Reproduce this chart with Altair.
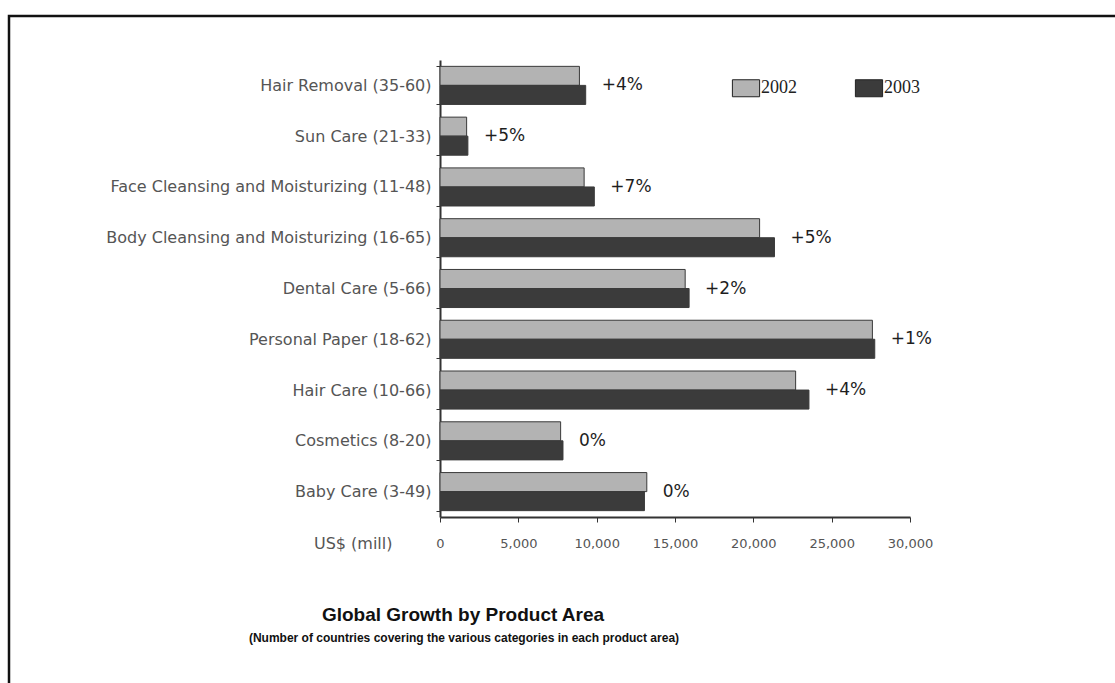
import altair as alt
import pandas as pd

categories = [
    "Hair Removal (35-60)",
    "Sun Care (21-33)",
    "Face Cleansing and Moisturizing (11-48)",
    "Body Cleansing and Moisturizing (16-65)",
    "Dental Care (5-66)",
    "Personal Paper (18-62)",
    "Hair Care (10-66)",
    "Cosmetics (8-20)",
    "Baby Care (3-49)",
]
values_2002 = [8900, 1700, 9200, 20400, 15650, 27600, 22700, 7700, 13200]
values_2003 = [9300, 1780, 9850, 21350, 15900, 27750, 23550, 7850, 13050]
growth_labels = ["+4%", "+5%", "+7%", "+5%", "+2%", "+1%", "+4%", "0%", "0%"]
years = ["2002", "2003"]
x_ticks = [0, 5000, 10000, 15000, 20000, 25000, 30000]
title_text = "Global Growth by Product Area"
subtitle_text = "(Number of countries covering the various categories in each product area)"

rows = []
for c, a, b in zip(categories, values_2002, values_2003):
    rows.append({"category": c, "year": "2002", "value": a})
    rows.append({"category": c, "year": "2003", "value": b})
bars_df = pd.DataFrame(rows)

labels_df = pd.DataFrame({
    "category": categories,
    "top": [max(a, b) for a, b in zip(values_2002, values_2003)],
    "label": growth_labels,
})

y_scale = alt.Scale(domain=categories, paddingInner=0.25, paddingOuter=0.125)
x_scale = alt.Scale(domain=[0, 30000], nice=False)

y_axis = alt.Axis(
    title=None,
    labelFont="DejaVu Sans",
    labelFontSize=16,
    labelColor="#555555",
    labelPadding=5,
    tickSize=4,
    tickBand="extent",
    tickColor="#333333",
    domainColor="#333333",
    domainWidth=2,
    labelLimit=500,
)
x_axis = alt.Axis(
    title="US$ (mill)",
    titleFont="DejaVu Sans",
    titleFontSize=16,
    titleFontWeight="normal",
    titleColor="#555555",
    titleX=-48,
    titleY=26,
    titleAlign="right",
    titleBaseline="middle",
    values=x_ticks,
    labelExpr="format(datum.value, ',')",
    labelFlush=False,
    labelFont="DejaVu Sans",
    labelFontSize=13,
    labelColor="#555555",
    labelPadding=15,
    tickSize=5,
    tickColor="#333333",
    domainColor="#333333",
    domainWidth=2,
    grid=False,
)

bars = alt.Chart(bars_df).mark_bar(stroke="#3a3a3a", strokeWidth=1).encode(
    y=alt.Y("category:N", sort=categories, scale=y_scale, axis=y_axis),
    x=alt.X("value:Q", scale=x_scale, axis=x_axis),
    yOffset=alt.YOffset("year:N", sort=years, scale=alt.Scale(paddingInner=0, paddingOuter=0)),
    color=alt.Color(
        "year:N",
        scale=alt.Scale(domain=years, range=["#b3b3b3", "#3b3b3b"]),
        legend=alt.Legend(
            title=None,
            orient="none",
            direction="horizontal",
            legendX=297,
            legendY=19,
            padding=0,
            symbolType="M-1.6,-1H1.6V1H-1.6Z",
            symbolSize=289,
            symbolStrokeColor="#222222",
            symbolStrokeWidth=1,
            symbolOpacity=1,
            labelFont="Liberation Serif",
            labelFontSize=18,
            labelColor="#222222",
            labelOffset=6,
            columnPadding=56,
        ),
    ),
)

growth = alt.Chart(labels_df).mark_text(
    align="left",
    baseline="middle",
    dx=16,
    font="DejaVu Sans",
    fontSize=17,
    color="#1e1e1e",
).encode(
    y=alt.Y("category:N", sort=categories, scale=y_scale, axis=y_axis),
    x=alt.X("top:Q", scale=x_scale, axis=x_axis),
    text="label:N",
)

one = pd.DataFrame({"title": [title_text], "subtitle": [subtitle_text]})

frame = alt.Chart(one).mark_rect(
    fill=None, stroke="#111111", strokeWidth=2.5
).encode(
    x=alt.value(-431),
    x2=alt.value(700),
    y=alt.value(-44),
    y2=alt.value(700),
)

title_mark = alt.Chart(one).mark_text(
    align="center", baseline="middle", font="Liberation Sans",
    fontSize=19, fontWeight="bold", color="#111111",
).encode(x=alt.value(23), y=alt.value(555), text="title:N")

subtitle_mark = alt.Chart(one).mark_text(
    align="center", baseline="middle", font="Liberation Sans",
    fontSize=12, fontWeight="bold", color="#111111",
).encode(x=alt.value(24), y=alt.value(578), text="subtitle:N")

chart = alt.layer(frame, bars, growth, title_mark, subtitle_mark).properties(
    width=470,
    height=457,
    background="white",
    autosize=alt.AutoSizeParams(type="none"),
    padding={"left": 440, "top": 60, "right": 205, "bottom": 166},
).configure_view(strokeWidth=0, stroke="transparent")

chart.save("out.html", embed_options={"renderer": "svg", "actions": False})
